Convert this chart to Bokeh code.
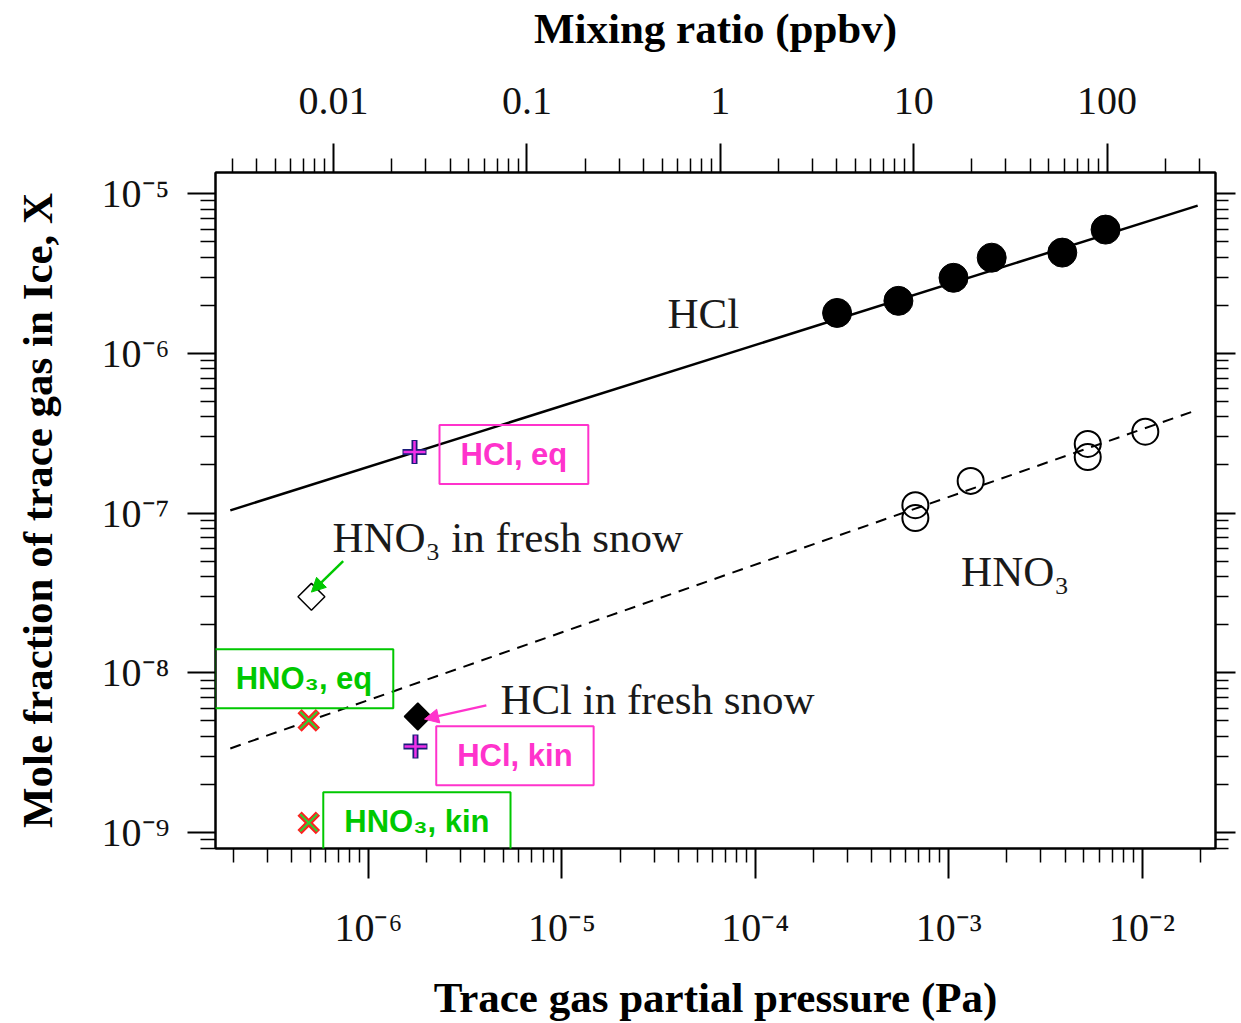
import numpy as np
from bokeh.plotting import figure
from bokeh.models import (Range1d, LogAxis, FixedTicker, CustomJSTickFormatter,
                          Label, Arrow, NormalHead)
from bokeh.core.properties import value
from bokeh.embed import file_html
from bokeh.resources import INLINE

# ---------------- data ----------------
# HCl laboratory data: partial pressure (Pa) vs mole fraction in ice
hcl_p = [2.65e-4, 5.5e-4, 1.06e-3, 1.67e-3, 3.87e-3, 6.48e-3]
hcl_x = [1.79e-6, 2.13e-6, 2.97e-6, 3.97e-6, 4.27e-6, 5.95e-6]
# HNO3 laboratory data
hno3_p = [6.73e-4, 6.73e-4, 1.30e-3, 5.24e-3, 5.24e-3, 1.04e-2]
hno3_x = [1.12e-7, 9.3e-8, 1.59e-7, 2.71e-7, 2.24e-7, 3.23e-7]
# fitted lines (end points)
hcl_fit_p = [1.93e-7, 1.94e-2]
hcl_fit_x = [1.04e-7, 8.4e-6]
hno3_fit_p = [1.93e-7, 1.94e-2]
hno3_fit_x = [3.36e-9, 4.43e-7]
# fresh snow observations
snow_hno3_p = [5.07e-7]
snow_hno3_x = [2.99e-8]
snow_hcl_p = [1.80e-6]
snow_hcl_x = [5.33e-9]
# model estimates: [eq, kin]
model_hcl_p = [1.73e-6, 1.75e-6]
model_hcl_x = [2.41e-7, 3.46e-9]
model_hno3_p = [4.91e-7, 4.91e-7]
model_hno3_x = [5.04e-9, 1.15e-9]

# axis ticks
x_decades = [1e-7, 1e-6, 1e-5, 1e-4, 1e-3, 1e-2]
top_decades = [1e-3, 1e-2, 1e-1, 1.0, 10.0, 100.0, 1000.0]
y_decades = [1e-10, 1e-9, 1e-8, 1e-7, 1e-6, 1e-5]
P_TOTAL = 6.6e4  # Pa, converts partial pressure to mixing ratio

X_LO, X_HI = 10 ** -6.791, 10 ** -1.62
Y_LO, Y_HI = 10 ** -9.10, 10 ** -4.868


def minors(decades):
    return [k * d for d in decades for k in range(2, 10)]


SERIF = "Liberation Serif"
SANS = "Liberation Sans"
MAGENTA = "#ff33cc"
GREEN = "#00c800"

W, H = 1236, 1023
p = figure(width=W, height=H, x_axis_type="log", y_axis_type="log",
           x_range=Range1d(X_LO, X_HI), y_range=Range1d(Y_LO, Y_HI),
           output_backend="svg", toolbar_location=None,
           min_border_left=215, min_border_right=W - 1215, min_border_top=172,
           min_border_bottom=H - 848)
p.grid.visible = False
p.outline_line_color = "black"
p.outline_line_width = 2
p.background_fill_color = "white"
p.border_fill_color = "white"

bottom = p.below[0]
left = p.left[0]

p.extra_x_ranges = {"ppbv": Range1d(X_LO / P_TOTAL * 1e9, X_HI / P_TOTAL * 1e9)}
top = LogAxis(x_range_name="ppbv", axis_label="Mixing ratio (ppbv)")
p.add_layout(top, "above")
right = LogAxis()
p.add_layout(right, "right")

sup_fmt = CustomJSTickFormatter(code="""
const sup = {"-": "⁻", "0": "⁰", "1": "¹", "2": "²", "3": "³", "4": "⁴",
             "5": "⁵", "6": "⁶", "7": "⁷", "8": "⁸", "9": "⁹"};
const e = Math.round(Math.log10(tick));
return "10" + String(e).split("").map(c => sup[c]).join("");
""")
plain_fmt = CustomJSTickFormatter(code="return String(Number(tick.toPrecision(1)));")
empty_fmt = CustomJSTickFormatter(code="return '';")


def style(ax, major_out=28, minor_out=14):
    ax.axis_line_width = 2
    ax.axis_line_color = "black"
    ax.major_tick_line_width = 2
    ax.minor_tick_line_width = 1.5
    ax.major_tick_line_color = "black"
    ax.minor_tick_line_color = "black"
    ax.major_tick_in = 0
    ax.minor_tick_in = 0
    ax.major_tick_out = major_out
    ax.minor_tick_out = minor_out
    ax.major_label_text_font = SERIF
    ax.major_label_text_font_size = "40px"
    ax.major_label_text_color = "#111111"
    ax.axis_label_text_font = SERIF
    ax.axis_label_text_font_style = "bold"
    ax.axis_label_text_font_size = "43px"
    ax.axis_label_text_color = "black"


bottom.axis_label = "Trace gas partial pressure (Pa)"
bottom.ticker = FixedTicker(ticks=x_decades, minor_ticks=minors(x_decades))
bottom.formatter = sup_fmt
style(bottom, 30, 14)
bottom.major_label_standoff = 26
bottom.axis_label_standoff = 21

top.ticker = FixedTicker(ticks=top_decades, minor_ticks=minors(top_decades))
top.formatter = plain_fmt
style(top, 29, 14)
top.major_label_standoff = 30
top.axis_label_standoff = 33

left.axis_label = "Mole fraction of trace gas in Ice, X"
left.ticker = FixedTicker(ticks=y_decades, minor_ticks=minors(y_decades))
left.formatter = sup_fmt
style(left, 28, 15)
left.major_label_standoff = 18
left.axis_label_standoff = 38

right.ticker = FixedTicker(ticks=y_decades, minor_ticks=minors(y_decades))
right.formatter = empty_fmt
style(right, 20, 13)
right.major_label_standoff = 0

# ---------------- lines ----------------
p.line(hcl_fit_p, hcl_fit_x, line_color="black", line_width=2.5)
p.line(hno3_fit_p, hno3_fit_x, line_color="black", line_width=2, line_dash="11 8")

# ---------------- data markers ----------------
p.scatter(hcl_p, hcl_x, marker="circle", size=29, fill_color="black", line_color="black")
p.scatter(hno3_p, hno3_x, marker="circle", size=26, fill_color=None,
          line_color="black", line_width=2)
p.scatter(snow_hno3_p, snow_hno3_x, marker="square", angle=np.pi / 4, size=19,
          fill_color="white", line_color="black", line_width=1.5)
p.scatter(snow_hcl_p, snow_hcl_x, marker="square", angle=np.pi / 4, size=19,
          fill_color="black", line_color="black", line_width=1.5)
# model estimates
p.scatter(model_hcl_p, model_hcl_x, marker="cross", size=24, line_color="#1c1c7a", line_width=6)
p.scatter(model_hcl_p, model_hcl_x, marker="cross", size=22, line_color="#f030e8", line_width=2.5)
p.scatter(model_hno3_p, model_hno3_x, marker="x", size=26, line_color="#ff2020", line_width=6)
p.scatter(model_hno3_p, model_hno3_x, marker="x", size=24, line_color="#33cc33", line_width=2.2)

# ---------------- serif annotations ----------------
p.text(x=[3.52e-5, 6.51e-7, 1.16e-3, 4.81e-6],
       y=[1.77e-6, 7.07e-8, 4.32e-8, 6.81e-9],
       text=["HCl", "HNO₃ in fresh snow", "HNO₃", "HCl in fresh snow"],
       text_font=value(SERIF), text_font_size="43px", text_color="#1a1a1a",
       text_align="left", text_baseline="alphabetic")


# ---------------- boxed labels ----------------
def box_label(x, y, text, color):
    lab = Label(x=x, y=y, x_units="data", y_units="data", text=text,
                text_font=SANS, text_font_style="bold", text_font_size="31px",
                text_color=color, text_align="center", text_baseline="middle",
                border_line_color=color, border_line_width=2,
                background_fill_color=None,
                padding=dict(left=21, right=21, top=12, bottom=12))
    p.add_layout(lab)


box_label(5.65e-6, 2.33e-7, "HCl, eq", MAGENTA)
box_label(5.72e-6, 3.02e-9, "HCl, kin", MAGENTA)
box_label(4.64e-7, 9.17e-9, "HNO₃, eq", GREEN)
box_label(1.78e-6, 1.17e-9, "HNO₃, kin", GREEN)

# ---------------- arrows ----------------
p.add_layout(Arrow(end=NormalHead(size=14, fill_color=GREEN, line_color=GREEN),
                   x_start=7.40e-7, y_start=5.0e-8, x_end=5.07e-7, y_end=3.2e-8,
                   line_color=GREEN, line_width=2.5))
p.add_layout(Arrow(end=NormalHead(size=14, fill_color=MAGENTA, line_color=MAGENTA),
                   x_start=4.07e-6, y_start=6.25e-9, x_end=1.95e-6, y_end=5.13e-9,
                   line_color=MAGENTA, line_width=2.5))

open("out.html", "w").write(file_html(p, INLINE))
